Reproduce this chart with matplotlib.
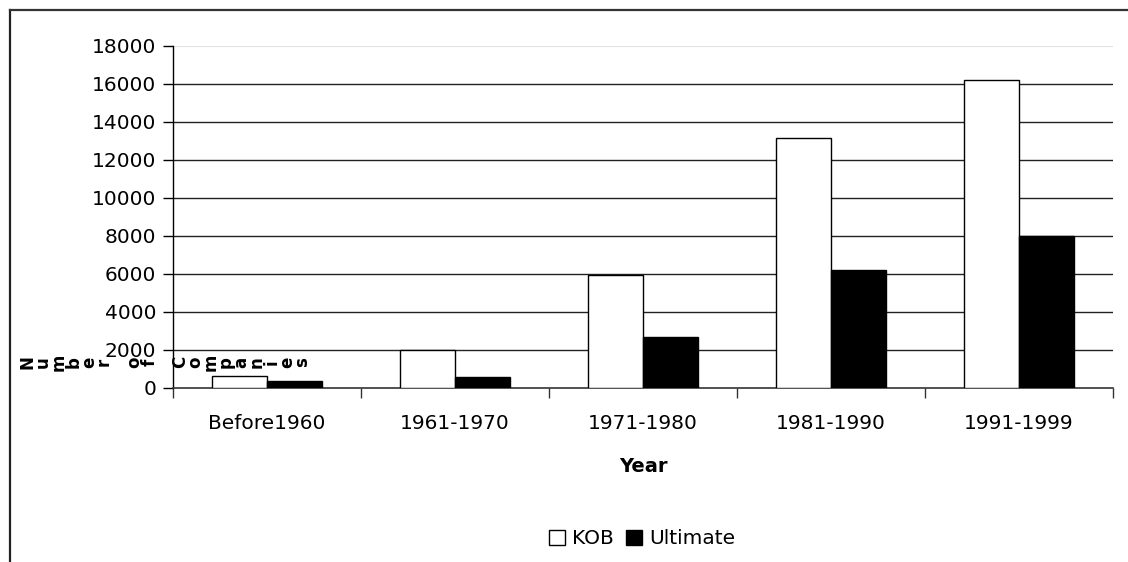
import matplotlib
matplotlib.use("Agg")
import matplotlib.pyplot as plt
import numpy as np
from matplotlib.lines import Line2D
from matplotlib.patches import Patch

categories = ["Before1960", "1961-1970", "1971-1980", "1981-1990", "1991-1999"]
kob = [630, 2000, 5940, 13130, 16200]
ultimate = [330, 530, 2650, 6180, 7970]
yticks = [0, 2000, 4000, 6000, 8000, 10000, 12000, 14000, 16000, 18000]
ylabel_text = "Number of Companies"
xlabel_text = "Year"
series_names = ["KOB", "Ultimate"]

plt.rcParams['font.family'] = ['DejaVu Sans']
W, H = 1128, 562
fig = plt.figure(figsize=(W / 100, H / 100), dpi=100)
fig.patch.set_facecolor('white')

ax = fig.add_axes([173 / W, 1 - 387.5 / H, (1113 - 173) / W, (387.5 - 45.5) / H])
x = np.arange(len(categories))
bw = 0.29
ax.bar(x - bw / 2, kob, bw, color='white', edgecolor='black', linewidth=1.0, zorder=3)
ax.bar(x + bw / 2, ultimate, bw, color='black', edgecolor='black', linewidth=1.0, zorder=3)

ax.set_xlim(-0.5, len(categories) - 0.5)
ax.set_ylim(0, 18000)
ax.set_yticks(yticks)
ax.set_yticklabels([str(v) for v in yticks], fontsize=14.5)
for v in yticks[1:-1]:
    ax.axhline(v, color='#222222', linewidth=1.0, zorder=1)
ax.axhline(18000, color='#e2e2e2', linewidth=1.5, zorder=1)

ax.set_xticks(x)
ax.set_xticklabels(categories, fontsize=14.5)
ax.tick_params(axis='x', which='major', length=0, pad=19)
ax.set_xticks(np.arange(len(categories) + 1) - 0.5, minor=True)
ax.tick_params(axis='x', which='minor', length=7, width=1, color='#333333', direction='out')
ax.tick_params(axis='y', length=7, width=1, direction='out', pad=5)

for s in ['top', 'right']:
    ax.spines[s].set_visible(False)
ax.spines['left'].set_color('black')
ax.spines['bottom'].set_color('#333333')
ax.spines['left'].set_linewidth(1.0)
ax.spines['bottom'].set_linewidth(1.2)

ax.set_xlabel(xlabel_text, fontsize=14, fontweight='bold')
ax.xaxis.set_label_coords(0.5, -(457 - 387.5) / (387.5 - 45.5))

# garbled y-axis label: characters rotated and laid out horizontally (as in the reference)
x0, x1 = 28, 302
n = len(ylabel_text)
for i, ch in enumerate(ylabel_text):
    px = x0 + (x1 - x0) * i / (n - 1)
    fig.text(px / W, 1 - 362 / H, ch, rotation=90, ha='center', va='center',
             fontsize=12, fontweight='bold')

# legend
handles = [Patch(facecolor='white', edgecolor='black', linewidth=1.0),
           Patch(facecolor='black', edgecolor='black', linewidth=1.0)]
fig.legend(handles, series_names, loc='center', bbox_to_anchor=(642 / W, 1 - 539 / H),
           ncol=2, frameon=False, fontsize=14.5, handlelength=0.8, handleheight=0.8,
           handletextpad=0.35, columnspacing=0.6)

# chart-area border (top and left visible)
fig.add_artist(Line2D([9.5 / W, 9.5 / W], [0, 1 - 10 / H], transform=fig.transFigure,
                      color='#222222', linewidth=1.6))
fig.add_artist(Line2D([9.5 / W, 1.0], [1 - 10 / H, 1 - 10 / H], transform=fig.transFigure,
                      color='#333333', linewidth=1.6))

fig.savefig("out.png", dpi=100)
